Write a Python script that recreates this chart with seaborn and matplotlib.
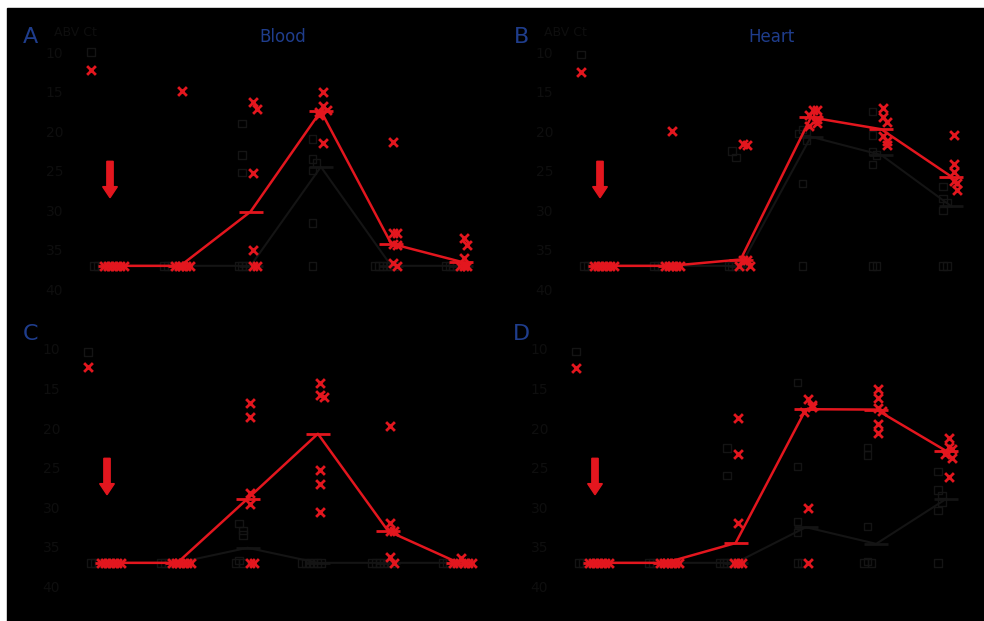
import seaborn as sns
import matplotlib.pyplot as plt
import pandas as pd

# Ct values (6 time points per panel + a positive control column)
groups = [0, 1, 2, 3, 4, 5]
panel_letters = ["A", "B", "C", "D"]
panel_titles = ["Blood", "Heart", "", ""]

ctrl_red = [12.3, 12.5, 12.3, 12.4]
ctrl_black = [10.0, 10.3, 10.4, 10.3]

blood_red = [
    [37, 37, 37, 37, 37, 37],
    [14.9, 37, 37, 37, 37, 37],
    [16.3, 17.2, 25.3, 35.0, 37, 37],
    [15.1, 16.8, 17.3, 17.6, 18.0, 21.5],
    [21.4, 32.9, 32.9, 34.2, 34.4, 36.7, 37],
    [33.5, 34.4, 36.0, 37, 37, 37],
]
blood_black = [
    [37, 37, 37, 37, 37, 37],
    [37, 37, 37, 37, 37, 37],
    [19.0, 23.0, 25.2, 37, 37, 37, 37],
    [21.0, 23.5, 24.0, 25.0, 31.6, 37],
    [37, 37, 37, 37, 37, 37],
    [37, 37, 37, 37, 37, 37],
]
heart_red = [
    [37, 37, 37, 37, 37, 37],
    [20.0, 37, 37, 37, 37, 37],
    [21.6, 21.7, 36.2, 36.2, 37, 37],
    [17.3, 17.3, 18.0, 18.5, 19.0, 19.4],
    [17.1, 18.2, 18.9, 20.6, 21.3, 21.7],
    [20.5, 24.1, 25.2, 26.3, 26.6, 27.4],
]
heart_black = [
    [37, 37, 37, 37, 37, 37],
    [37, 37, 37, 37, 37, 37],
    [22.5, 23.3, 37, 37, 37, 37],
    [19.8, 20.0, 20.3, 21.1, 26.6, 37],
    [17.5, 20.5, 22.6, 23.0, 24.2, 37, 37],
    [27.0, 28.5, 29.0, 30.0, 37, 37],
]
c_red = [
    [37, 37, 37, 37, 37, 37],
    [37, 37, 37, 37, 37, 37],
    [16.8, 18.6, 28.2, 29.6, 37, 37],
    [14.3, 15.8, 16.1, 25.3, 27.0, 30.6],
    [19.7, 32.0, 33.0, 33.0, 36.2, 37],
    [36.4, 37, 37, 37, 37, 37],
]
c_black = [
    [37, 37, 37, 37, 37, 37],
    [37, 37, 37, 37, 37, 37],
    [32.0, 32.9, 33.5, 36.7, 37, 37],
    [37, 37, 37, 37, 37, 37],
    [37, 37, 37, 37, 37, 37],
    [37, 37, 37, 37, 37, 37],
]
d_red = [
    [37, 37, 37, 37, 37, 37],
    [37, 37, 37, 37, 37, 37],
    [18.7, 23.3, 32.0, 37, 37, 37],
    [16.3, 17.1, 17.3, 17.9, 30.1, 37],
    [15.1, 16.2, 17.5, 17.8, 19.5, 20.6],
    [21.3, 22.4, 22.6, 23.2, 23.7, 26.2],
]
d_black = [
    [37, 37, 37, 37, 37, 37],
    [37, 37, 37, 37, 37, 37],
    [22.5, 26.0, 37, 37, 37, 37, 37],
    [14.2, 24.8, 31.8, 33.2, 37, 37],
    [22.4, 23.4, 32.4, 36.8, 37, 37],
    [25.5, 27.8, 28.5, 29.3, 30.4, 37],
]

red_sets = [blood_red, heart_red, c_red, d_red]
black_sets = [blood_black, heart_black, c_black, d_black]

RED = "#e3161e"
DARK = "#141414"
TEXT = "#0e0e0e"
BLUE = "#1f3d8c"

# pixel anchors of each panel: x of first group, y of Ct=10
anchors = [(110, 52), (600, 52), (107, 349), (595, 349)]
PX_X = 70.3   # pixels per group
PX_Y = 7.92   # pixels per Ct unit
W, H = 984, 621


def to_frame(sets, base, step=0.055):
    rows = []
    for g, vals in zip(groups, sets):
        placed = []
        for v in vals:
            k = sum(1 for p in placed if abs(p - v) < 1.0)
            placed.append(v)
            order = (k + 1) // 2 * (1 if k % 2 else -1)
            rows.append({"group": g, "ct": v, "xpos": g + base + order * step})
    return pd.DataFrame(rows)


fig = plt.figure(figsize=(W / 100, H / 100), dpi=100, facecolor="white")
fig.add_artist(plt.Rectangle((7 / W, 0), 1, 1 - 8 / H, transform=fig.transFigure,
                             color="black", zorder=-10))

for i in range(4):
    x0, y10 = anchors[i]
    left = x0 - 0.5 * PX_X
    top = y10 - 2 * PX_Y
    ax = fig.add_axes([left / W, 1 - (top + 34 * PX_Y) / H, 5.95 * PX_X / W, 34 * PX_Y / H])
    ax.set_facecolor("none")

    red_df = to_frame(red_sets[i], 0.03)
    blk_df = to_frame(black_sets[i], -0.12)

    sns.lineplot(data=blk_df, x="group", y="ct", estimator="median", errorbar=None,
                 color=DARK, lw=1.5, marker="_", markersize=17, mew=2,
                 markeredgecolor=DARK, ax=ax)
    sns.lineplot(data=red_df, x="group", y="ct", estimator="median", errorbar=None,
                 color=RED, lw=1.8, marker="_", markersize=17, mew=2,
                 markeredgecolor=RED, ax=ax, zorder=3)
    sns.scatterplot(data=blk_df, x="xpos", y="ct", marker="s", s=28, facecolor="none",
                    edgecolor=DARK, linewidth=1, ax=ax, legend=False)
    sns.scatterplot(data=red_df, x="xpos", y="ct", marker="x", s=40, color=RED,
                    linewidth=2, ax=ax, legend=False, zorder=4)

    # positive control column
    ax.scatter([-0.27], [ctrl_black[i]], marker="s", s=28, facecolor="none",
               edgecolor=DARK, linewidth=1)
    ax.scatter([-0.27], [ctrl_red[i]], marker="x", s=40, color=RED, linewidth=2)

    # inoculation arrow
    ax.arrow(0, 23.8, 0, 4.6, width=0.09, head_width=0.21, head_length=1.4,
             length_includes_head=True, color=RED, zorder=5)

    ax.set_xlim(-0.5, 5.45)
    ax.set_ylim(42, 8)
    ax.set_yticks([10, 15, 20, 25, 30, 35, 40])
    ax.set_xticks(groups)
    ax.set_xticklabels([])
    ax.tick_params(colors="black", labelcolor=TEXT, labelsize=10, pad=5)
    for s in ax.spines.values():
        s.set_color("black")
    ax.set_xlabel("")
    ax.set_ylabel("")
    if i < 2:
        ax.text(-0.8, 7.5, "ABV Ct", color=TEXT, fontsize=9, ha="left", va="center",
                clip_on=False)

    lx = 30 if i % 2 == 0 else 521
    fig.text(lx / W, 1 - (anchors[i][1] - 15) / H, panel_letters[i], color=BLUE,
             fontsize=16, ha="center", va="center")
    if panel_titles[i]:
        tx = 283 if i == 0 else 771
        fig.text(tx / W, 1 - 37 / H, panel_titles[i], color=BLUE, fontsize=12,
                 ha="center", va="center")

fig.savefig("out.png", dpi=100, facecolor=fig.get_facecolor())
